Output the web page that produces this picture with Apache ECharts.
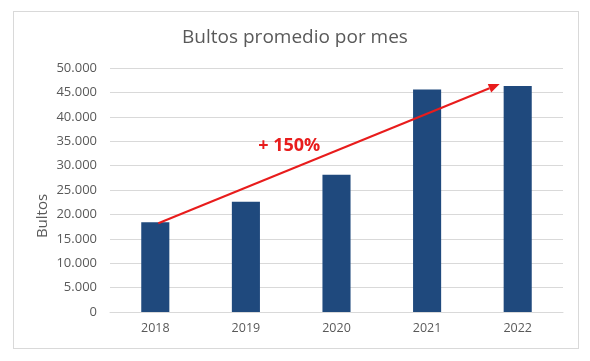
<!DOCTYPE html>
<html>
<head>
<meta charset="utf-8">
<script src="https://cdn.jsdelivr.net/npm/echarts@6/dist/echarts.min.js"></script>
<style>
html,body{margin:0;padding:0;background:#fff;}
#frame{position:absolute;left:13px;top:11px;width:566px;height:338px;border:1px solid #d9d9d9;box-sizing:border-box;}
#c{position:absolute;left:0;top:0;width:590px;height:361px;}
</style>
</head>
<body>
<div id="frame"></div>
<div id="c"></div>
<script>
const categories = ['2018', '2019', '2020', '2021', '2022'];
const values = [18400, 22600, 28100, 45600, 46300];
const yTicks = [0, 5000, 10000, 15000, 20000, 25000, 30000, 35000, 40000, 45000, 50000];
const yAxisTitle = 'Bultos';
const annotationText = '+ 150%';
const arrowStart = ['2018', 18400];
const arrowEnd = ['2022', 46700];

const font = '"Open Sans", "Liberation Sans", sans-serif';
const chart = echarts.init(document.getElementById('c'), null, {renderer: 'canvas'});
function fmt(v){ return v === 0 ? '0' : String(v).replace(/\B(?=(\d{3})+(?!\d))/g, '.'); }

chart.setOption({
  animation: false,
  title: {
    text: 'Bultos promedio por mes',
    left: 'center', top: 23,
    textStyle: {fontFamily: font, fontSize: 19, fontWeight: 'normal', color: '#595959'}
  },
  grid: {left: 110, right: 27, top: 68, bottom: 49},
  xAxis: {
    type: 'category', data: categories,
    axisLine: {lineStyle: {color: '#d9d9d9'}},
    axisTick: {show: false},
    axisLabel: {fontFamily: font, fontSize: 12.5, color: '#595959', margin: 10}
  },
  yAxis: {
    type: 'value', min: yTicks[0], max: yTicks[yTicks.length - 1], interval: 5000,
    axisLine: {show: false}, axisTick: {show: false},
    splitLine: {lineStyle: {color: '#d9d9d9'}},
    axisLabel: {fontFamily: font, fontSize: 13, color: '#595959', margin: 13, formatter: fmt}
  },
  series: [{
    type: 'bar', data: values, barWidth: '31%',
    itemStyle: {color: '#1f497d'}
  }]
});

const p0 = chart.convertToPixel({gridIndex: 0}, arrowStart);
const p1 = chart.convertToPixel({gridIndex: 0}, arrowEnd);
const bw = 90.5 * 0.31;
const x0 = p0[0] + 3, y0 = p0[1] + 1;
const x1 = p1[0] - bw / 2 - 4, y1 = p1[1];
const ang = Math.atan2(y1 - y0, x1 - x0);
const L = 11, W = 4.5;
const bx = x1 - L * Math.cos(ang), by = y1 - L * Math.sin(ang);
const nx = -Math.sin(ang), ny = Math.cos(ang);
const mid0 = chart.convertToPixel({gridIndex: 0}, ['2019', 0]);
const mid1 = chart.convertToPixel({gridIndex: 0}, ['2020', 35000]);
chart.setOption({
  graphic: [
    {type: 'line', shape: {x1: x0, y1: y0, x2: bx, y2: by}, style: {stroke: '#e81c1c', lineWidth: 2}, z: 10},
    {type: 'polygon', shape: {points: [[x1, y1], [bx + nx * W, by + ny * W], [bx - nx * W, by - ny * W]]}, style: {fill: '#e81c1c'}, z: 10},
    {type: 'text', x: (mid0[0] + mid1[0]) / 2 - 2, y: mid1[1] + 5,
     style: {text: annotationText, fill: '#e81c1c', font: 'bold 18px ' + font, textAlign: 'center', textVerticalAlign: 'middle'}, z: 10},
    {type: 'text', x: 43, y: 216, rotation: Math.PI / 2,
     style: {text: yAxisTitle, fill: '#595959', font: '15px ' + font, textAlign: 'center', textVerticalAlign: 'middle'}, z: 10}
  ]
});
</script>
</body>
</html>
